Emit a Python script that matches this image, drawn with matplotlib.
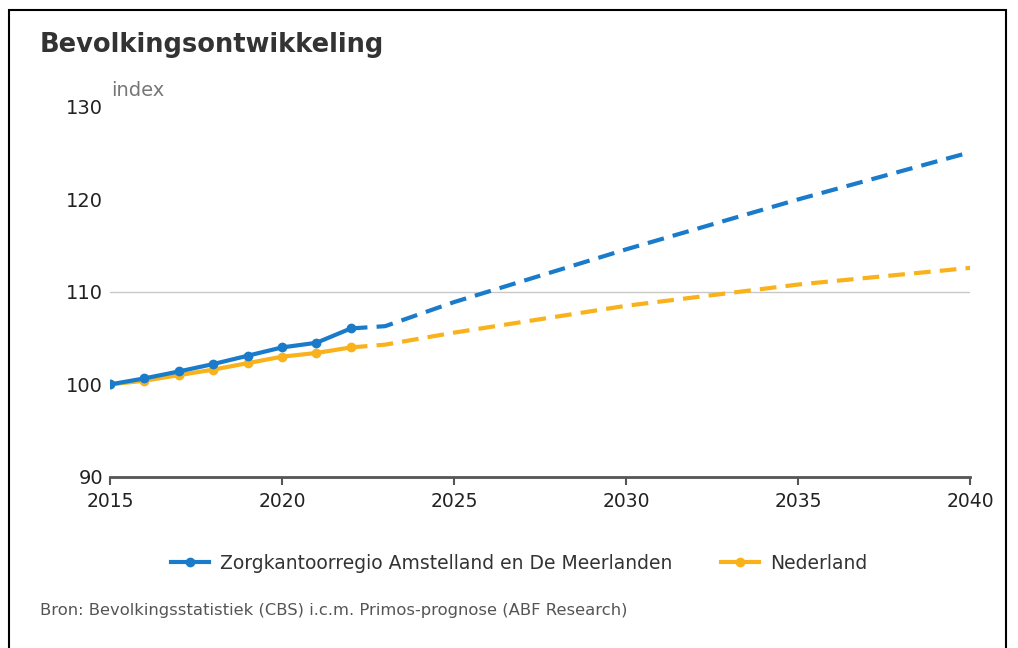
import numpy as np
import matplotlib
matplotlib.use('Agg')
import matplotlib.pyplot as plt
from matplotlib.patches import Rectangle

# observed data (index, 2015 = 100)
years_obs = [2015, 2016, 2017, 2018, 2019, 2020, 2021, 2022]
regio_obs = [100.0, 100.65, 101.4, 102.2, 103.1, 104.0, 104.5, 106.05]
nl_obs = [100.0, 100.4, 101.0, 101.6, 102.3, 103.0, 103.4, 104.0]

# prognose
years_prog = [2022, 2023, 2025, 2030, 2035, 2040]
regio_prog = [106.05, 106.3, 108.9, 114.6, 120.0, 125.1]
nl_prog = [104.0, 104.3, 105.6, 108.5, 110.8, 112.6]

labels = ['Zorgkantoorregio Amstelland en De Meerlanden', 'Nederland']
colors = ['#1b7bcb', '#f9b21b']
xticks = [2015, 2020, 2025, 2030, 2035, 2040]
yticks = [90, 100, 110, 120, 130]

fig = plt.figure(figsize=(10.18, 6.48), dpi=100)
ax = fig.add_axes([0.108, 0.264, 0.845, 0.571])

ax.axhline(110, color='#c8c8c8', linewidth=1, zorder=1)

for obs, prog, c, lab in [(regio_obs, regio_prog, colors[0], labels[0]),
                          (nl_obs, nl_prog, colors[1], labels[1])]:
    ax.plot(years_prog, prog, color=c, linewidth=3, linestyle=(0, (4, 2.2)), zorder=3)
for obs, prog, c, lab in [(nl_obs, nl_prog, colors[1], labels[1]),
                          (regio_obs, regio_prog, colors[0], labels[0])]:
    ax.plot(years_obs, obs, color=c, linewidth=3, marker='o', markersize=6,
            label=lab, zorder=4)

ax.set_xlim(2015, 2040)
ax.set_ylim(90, 130)
ax.set_xticks(xticks)
ax.set_yticks(yticks)
ax.tick_params(axis='x', length=6, width=1.5, color='#555555', labelsize=13.5,
               labelcolor='#222222', pad=5)
ax.tick_params(axis='y', length=0, labelsize=14, labelcolor='#222222', pad=5)
for s in ['top', 'right', 'left']:
    ax.spines[s].set_visible(False)
ax.spines['bottom'].set_color('#555555')
ax.spines['bottom'].set_linewidth(2)

handles, labs = ax.get_legend_handles_labels()
order = [1, 0]
fig.legend([handles[i] for i in order], [labs[i] for i in order],
           loc='center', bbox_to_anchor=(0.51, 0.131), ncol=2, frameon=False,
           fontsize=13.5, handlelength=2.0, columnspacing=2.6, handletextpad=0.6,
           labelcolor='#333333')

fig.text(0.039, 0.93, 'Bevolkingsontwikkeling', fontsize=18.5, fontweight='bold',
         color='#333333', va='center')
fig.text(0.109, 0.86, 'index', fontsize=14, color='#777777', va='center')
fig.text(0.039, 0.058, 'Bron: Bevolkingsstatistiek (CBS) i.c.m. Primos-prognose (ABF Research)',
         fontsize=11.8, color='#555555', va='center')

fig.patches.append(Rectangle((0.009, -0.1), 0.979, 1.085, transform=fig.transFigure,
                             fill=False, edgecolor='black', linewidth=1.5))

fig.savefig('out.png', dpi=100)
